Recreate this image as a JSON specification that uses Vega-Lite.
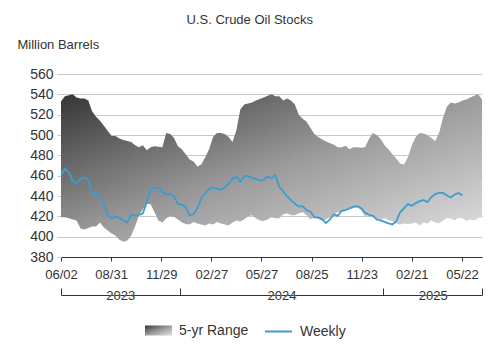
{
  "$schema": "https://vega.github.io/schema/vega-lite/v6.json",
  "width": 421,
  "height": 183,
  "autosize": {"type": "none"},
  "padding": {"left": 61, "top": 74, "right": 22, "bottom": 105},
  "background": "white",
  "title": {"text": "U.S. Crude Oil Stocks", "anchor": "middle", "frame": "bounds", "fontSize": 13, "fontWeight": "normal", "color": "#333333", "font": "Liberation Sans", "offset": 1.5, "baseline": "alphabetic"},
  "data": {"values": [
    {"date": "2023-06-02", "hi": 533, "lo": 419, "weekly": 460.5},
    {"date": "2023-06-09", "hi": 538, "lo": 419, "weekly": 467},
    {"date": "2023-06-16", "hi": 539, "lo": 418, "weekly": 463},
    {"date": "2023-06-23", "hi": 540, "lo": 417, "weekly": 455},
    {"date": "2023-06-30", "hi": 537, "lo": 416, "weekly": 452.5},
    {"date": "2023-07-07", "hi": 536, "lo": 408, "weekly": 457},
    {"date": "2023-07-14", "hi": 536, "lo": 407, "weekly": 457.5},
    {"date": "2023-07-21", "hi": 534, "lo": 408.5, "weekly": 456},
    {"date": "2023-07-28", "hi": 523, "lo": 410, "weekly": 442},
    {"date": "2023-08-04", "hi": 518, "lo": 410, "weekly": 444},
    {"date": "2023-08-11", "hi": 514, "lo": 414, "weekly": 439},
    {"date": "2023-08-18", "hi": 509, "lo": 409, "weekly": 432},
    {"date": "2023-08-25", "hi": 504, "lo": 406, "weekly": 421},
    {"date": "2023-09-01", "hi": 499, "lo": 403, "weekly": 418},
    {"date": "2023-09-08", "hi": 499, "lo": 401, "weekly": 420},
    {"date": "2023-09-15", "hi": 496.5, "lo": 397, "weekly": 418.5},
    {"date": "2023-09-22", "hi": 495, "lo": 395, "weekly": 416},
    {"date": "2023-09-29", "hi": 494, "lo": 396, "weekly": 414},
    {"date": "2023-10-06", "hi": 493, "lo": 401, "weekly": 422},
    {"date": "2023-10-13", "hi": 490, "lo": 410, "weekly": 420.5},
    {"date": "2023-10-20", "hi": 488, "lo": 421, "weekly": 421.5},
    {"date": "2023-10-27", "hi": 490, "lo": 427, "weekly": 423},
    {"date": "2023-11-03", "hi": 485, "lo": 432.5, "weekly": 434},
    {"date": "2023-11-10", "hi": 488, "lo": 432, "weekly": 447},
    {"date": "2023-11-17", "hi": 489, "lo": 424, "weekly": 448.5},
    {"date": "2023-11-24", "hi": 488.5, "lo": 416, "weekly": 448},
    {"date": "2023-12-01", "hi": 488, "lo": 414, "weekly": 444},
    {"date": "2023-12-08", "hi": 502, "lo": 418, "weekly": 441.5},
    {"date": "2023-12-15", "hi": 501, "lo": 420, "weekly": 442},
    {"date": "2023-12-22", "hi": 497, "lo": 419.5, "weekly": 440},
    {"date": "2023-12-29", "hi": 489, "lo": 417, "weekly": 432},
    {"date": "2024-01-05", "hi": 486, "lo": 414, "weekly": 431.5},
    {"date": "2024-01-12", "hi": 481, "lo": 412.5, "weekly": 429.5},
    {"date": "2024-01-19", "hi": 476, "lo": 412, "weekly": 421},
    {"date": "2024-01-26", "hi": 474, "lo": 414.5, "weekly": 422},
    {"date": "2024-02-02", "hi": 469, "lo": 413, "weekly": 428},
    {"date": "2024-02-09", "hi": 471, "lo": 412, "weekly": 438},
    {"date": "2024-02-16", "hi": 478, "lo": 411, "weekly": 443},
    {"date": "2024-02-23", "hi": 486, "lo": 413, "weekly": 447},
    {"date": "2024-03-01", "hi": 498, "lo": 412, "weekly": 448.5},
    {"date": "2024-03-08", "hi": 502, "lo": 414.5, "weekly": 447},
    {"date": "2024-03-15", "hi": 502, "lo": 413, "weekly": 446},
    {"date": "2024-03-22", "hi": 501, "lo": 412, "weekly": 448.5},
    {"date": "2024-03-29", "hi": 498, "lo": 411, "weekly": 452},
    {"date": "2024-04-05", "hi": 493, "lo": 414, "weekly": 457},
    {"date": "2024-04-12", "hi": 505, "lo": 416, "weekly": 459},
    {"date": "2024-04-19", "hi": 525, "lo": 415, "weekly": 454},
    {"date": "2024-04-26", "hi": 530, "lo": 417, "weekly": 459.5},
    {"date": "2024-05-03", "hi": 531, "lo": 420, "weekly": 459.5},
    {"date": "2024-05-10", "hi": 532, "lo": 421, "weekly": 457.5},
    {"date": "2024-05-17", "hi": 534, "lo": 418, "weekly": 457},
    {"date": "2024-05-24", "hi": 535.5, "lo": 416, "weekly": 455},
    {"date": "2024-05-31", "hi": 537, "lo": 415.5, "weekly": 456},
    {"date": "2024-06-07", "hi": 538.5, "lo": 417, "weekly": 459},
    {"date": "2024-06-14", "hi": 540, "lo": 419, "weekly": 457.5},
    {"date": "2024-06-21", "hi": 538, "lo": 418, "weekly": 460.5},
    {"date": "2024-06-28", "hi": 538, "lo": 418, "weekly": 449},
    {"date": "2024-07-05", "hi": 534, "lo": 422, "weekly": 444.5},
    {"date": "2024-07-12", "hi": 536, "lo": 423, "weekly": 439.5},
    {"date": "2024-07-19", "hi": 534, "lo": 421, "weekly": 436},
    {"date": "2024-07-26", "hi": 530, "lo": 421, "weekly": 432.5},
    {"date": "2024-08-02", "hi": 520, "lo": 423, "weekly": 429.5},
    {"date": "2024-08-09", "hi": 516, "lo": 424, "weekly": 430},
    {"date": "2024-08-16", "hi": 513, "lo": 421, "weekly": 426},
    {"date": "2024-08-23", "hi": 507, "lo": 417, "weekly": 424.5},
    {"date": "2024-08-30", "hi": 501, "lo": 419, "weekly": 419},
    {"date": "2024-09-06", "hi": 498, "lo": 417.5, "weekly": 419},
    {"date": "2024-09-13", "hi": 495.5, "lo": 416, "weekly": 417},
    {"date": "2024-09-20", "hi": 493.5, "lo": 417, "weekly": 413.5},
    {"date": "2024-09-27", "hi": 492, "lo": 419, "weekly": 417},
    {"date": "2024-10-04", "hi": 490.5, "lo": 422, "weekly": 422},
    {"date": "2024-10-11", "hi": 488, "lo": 424, "weekly": 420.5},
    {"date": "2024-10-18", "hi": 488, "lo": 425, "weekly": 425.5},
    {"date": "2024-10-25", "hi": 489.5, "lo": 426, "weekly": 426},
    {"date": "2024-11-01", "hi": 486, "lo": 426.6, "weekly": 428},
    {"date": "2024-11-08", "hi": 488, "lo": 428, "weekly": 429.5},
    {"date": "2024-11-15", "hi": 488, "lo": 429, "weekly": 430},
    {"date": "2024-11-22", "hi": 487.5, "lo": 426, "weekly": 428},
    {"date": "2024-11-29", "hi": 488, "lo": 420, "weekly": 423.5},
    {"date": "2024-12-06", "hi": 496, "lo": 421.5, "weekly": 421.5},
    {"date": "2024-12-13", "hi": 502, "lo": 420, "weekly": 420.5},
    {"date": "2024-12-20", "hi": 500, "lo": 418, "weekly": 417},
    {"date": "2024-12-27", "hi": 496, "lo": 417, "weekly": 416},
    {"date": "2025-01-03", "hi": 490, "lo": 418, "weekly": 414.5},
    {"date": "2025-01-10", "hi": 486, "lo": 416.5, "weekly": 413},
    {"date": "2025-01-17", "hi": 481, "lo": 415, "weekly": 412},
    {"date": "2025-01-24", "hi": 477, "lo": 413, "weekly": 415},
    {"date": "2025-01-31", "hi": 472, "lo": 412, "weekly": 424},
    {"date": "2025-02-07", "hi": 471, "lo": 413, "weekly": 428},
    {"date": "2025-02-14", "hi": 478, "lo": 412.5, "weekly": 432},
    {"date": "2025-02-21", "hi": 490, "lo": 413, "weekly": 430.5},
    {"date": "2025-02-28", "hi": 498, "lo": 414, "weekly": 433},
    {"date": "2025-03-07", "hi": 502, "lo": 411, "weekly": 435},
    {"date": "2025-03-14", "hi": 501.5, "lo": 414, "weekly": 436},
    {"date": "2025-03-21", "hi": 500, "lo": 413, "weekly": 434},
    {"date": "2025-03-28", "hi": 497, "lo": 416, "weekly": 439},
    {"date": "2025-04-04", "hi": 494, "lo": 414, "weekly": 442},
    {"date": "2025-04-11", "hi": 502, "lo": 413, "weekly": 443},
    {"date": "2025-04-18", "hi": 517, "lo": 416, "weekly": 443},
    {"date": "2025-04-25", "hi": 528, "lo": 418, "weekly": 440.5},
    {"date": "2025-05-02", "hi": 532, "lo": 418, "weekly": 438.5},
    {"date": "2025-05-09", "hi": 531, "lo": 416, "weekly": 441.5},
    {"date": "2025-05-16", "hi": 532, "lo": 418.5, "weekly": 443},
    {"date": "2025-05-23", "hi": 534, "lo": 418, "weekly": 440.5},
    {"date": "2025-05-30", "hi": 535, "lo": 415.5},
    {"date": "2025-06-06", "hi": 537, "lo": 417},
    {"date": "2025-06-13", "hi": 538.5, "lo": 416},
    {"date": "2025-06-20", "hi": 540, "lo": 418},
    {"date": "2025-06-27", "hi": 535, "lo": 419}
  ]},
  "layer": [
    {
      "mark": {"type": "area"},
      "encoding": {
        "x": {"field": "date", "type": "temporal",
          "scale": {"type": "utc", "nice": false, "domain": [{"year": 2023, "month": 6, "date": 2, "utc": true}, {"year": 2025, "month": 6, "date": 27, "utc": true}]},
          "axis": {"orient": "bottom", "title": null, "grid": false, "values": [
            {"year": 2023, "month": 6, "date": 2, "utc": true},
            {"year": 2023, "month": 8, "date": 31, "utc": true},
            {"year": 2023, "month": 11, "date": 29, "utc": true},
            {"year": 2024, "month": 2, "date": 27, "utc": true},
            {"year": 2024, "month": 5, "date": 27, "utc": true},
            {"year": 2024, "month": 8, "date": 25, "utc": true},
            {"year": 2024, "month": 11, "date": 23, "utc": true},
            {"year": 2025, "month": 2, "date": 21, "utc": true},
            {"year": 2025, "month": 5, "date": 22, "utc": true}],
            "labelExpr": "utcFormat(datum.value, '%m/%d')",
            "domainColor": "#333333", "tickColor": "#333333", "tickSize": 4, "labelPadding": 7,
            "labelFontSize": 13, "labelColor": "#333333", "labelFlush": false, "labelOverlap": false}},
        "y": {"field": "hi", "type": "quantitative", "title": "Million Barrels",
          "scale": {"domain": [380, 560], "nice": false, "zero": false},
          "axis": {"values": [380, 400, 420, 440, 460, 480, 500, 520, 540, 560], "domain": false, "labelOverlap": false,
            "grid": true, "gridColor": "#c8c8c8", "tickColor": "#c8c8c8", "tickSize": 4, "labelPadding": 4,
            "labelFontSize": 14, "labelColor": "#333333",
            "titleAngle": 0, "titleAlign": "left", "titleBaseline": "alphabetic", "titleX": -44, "titleY": -26,
            "titleFontSize": 13, "titleFontWeight": "normal", "titleColor": "#333333"}},
        "y2": {"field": "lo"},
        "fill": {"datum": "5-yr Range", "type": "nominal",
          "scale": {"domain": ["5-yr Range"], "range": [{"expr": "{gradient: 'linear', x1: 0, y1: 0, x2: 1, y2: 1, stops: [{offset: 0, color: '#363636'}, {offset: 0.5, color: '#9a9a9a'}, {offset: 1, color: '#e2e2e2'}]}"}]},
          "legend": {"orient": "none", "legendX": 84, "legendY": 243, "direction": "horizontal", "title": null,
            "padding": 0, "symbolSize": 729, "symbolType": "M-1,-0.37H1V0.37H-1Z", "symbolStrokeWidth": 0,
            "labelFontSize": 14, "labelColor": "#333333", "labelOffset": 7}}
      }
    },
    {
      "mark": {"type": "line", "strokeWidth": 1.8},
      "encoding": {
        "x": {"field": "date", "type": "temporal",
          "axis": {"orient": "bottom", "title": null, "grid": false, "labels": false, "offset": 38, "zindex": 1,
            "values": [
              {"year": 2023, "month": 6, "date": 2, "utc": true},
              {"year": 2024, "month": 1, "date": 1, "utc": true},
              {"year": 2025, "month": 1, "date": 1, "utc": true},
              {"year": 2025, "month": 6, "date": 27, "utc": true}],
            "domainColor": "#333333", "tickColor": "#333333", "tickSize": -7}},
        "y": {"field": "weekly", "type": "quantitative", "title": "Million Barrels",
          "axis": {"values": [380, 400, 420, 440, 460, 480, 500, 520, 540, 560], "domain": false, "labelOverlap": false,
            "grid": true, "gridColor": "#c8c8c8", "tickColor": "#c8c8c8", "tickSize": 4, "labelPadding": 4,
            "labelFontSize": 14, "labelColor": "#333333",
            "titleAngle": 0, "titleAlign": "left", "titleBaseline": "alphabetic", "titleX": -44, "titleY": -26,
            "titleFontSize": 13, "titleFontWeight": "normal", "titleColor": "#333333"}},
        "stroke": {"datum": "Weekly", "type": "nominal",
          "scale": {"domain": ["Weekly"], "range": ["#3d9bd2"]},
          "legend": {"orient": "none", "legendX": 203, "legendY": 243, "direction": "horizontal", "title": null,
            "padding": 0, "symbolSize": 729, "symbolType": "stroke", "symbolStrokeWidth": 2,
            "labelFontSize": 14, "labelColor": "#333333", "labelOffset": 7}}
      }
    },
    {
      "mark": {"type": "rule", "opacity": 0},
      "encoding": {
        "x": {"field": "date", "type": "temporal",
          "axis": {"orient": "bottom", "title": null, "grid": false, "domain": false, "ticks": false, "tickSize": 0, "offset": 38, "zindex": 2,
            "values": [
              {"year": 2023, "month": 9, "date": 16, "hours": 12, "utc": true},
              {"year": 2024, "month": 7, "date": 2, "utc": true},
              {"year": 2025, "month": 3, "date": 30, "hours": 12, "utc": true}],
            "labelExpr": "utcFormat(datum.value, '%Y')", "labelPadding": 0, "labelBaseline": "middle",
            "labelFontSize": 13, "labelColor": "white", "labelOverlap": false, "labelFlush": false,
            "encode": {"labels": {"stroke": {"value": "white"}, "strokeWidth": {"value": 5}}}}}
      }
    },
    {
      "mark": {"type": "rule", "opacity": 0},
      "encoding": {
        "x": {"field": "date", "type": "temporal",
          "axis": {"orient": "bottom", "title": null, "grid": false, "domain": false, "ticks": false, "tickSize": 0, "offset": 38, "zindex": 3,
            "values": [
              {"year": 2023, "month": 9, "date": 16, "hours": 12, "utc": true},
              {"year": 2024, "month": 7, "date": 2, "utc": true},
              {"year": 2025, "month": 3, "date": 30, "hours": 12, "utc": true}],
            "labelExpr": "utcFormat(datum.value, '%Y')", "labelPadding": 0, "labelBaseline": "middle",
            "labelFontSize": 13, "labelColor": "#333333", "labelOverlap": false, "labelFlush": false}}
      }
    }
  ],
  "resolve": {"axis": {"x": "independent"}},
  "config": {
    "font": "Liberation Sans",
    "view": {"stroke": null},
    "axis": {"labelFont": "Liberation Sans", "titleFont": "Liberation Sans"},
    "legend": {"labelFont": "Liberation Sans"}
  }
}
